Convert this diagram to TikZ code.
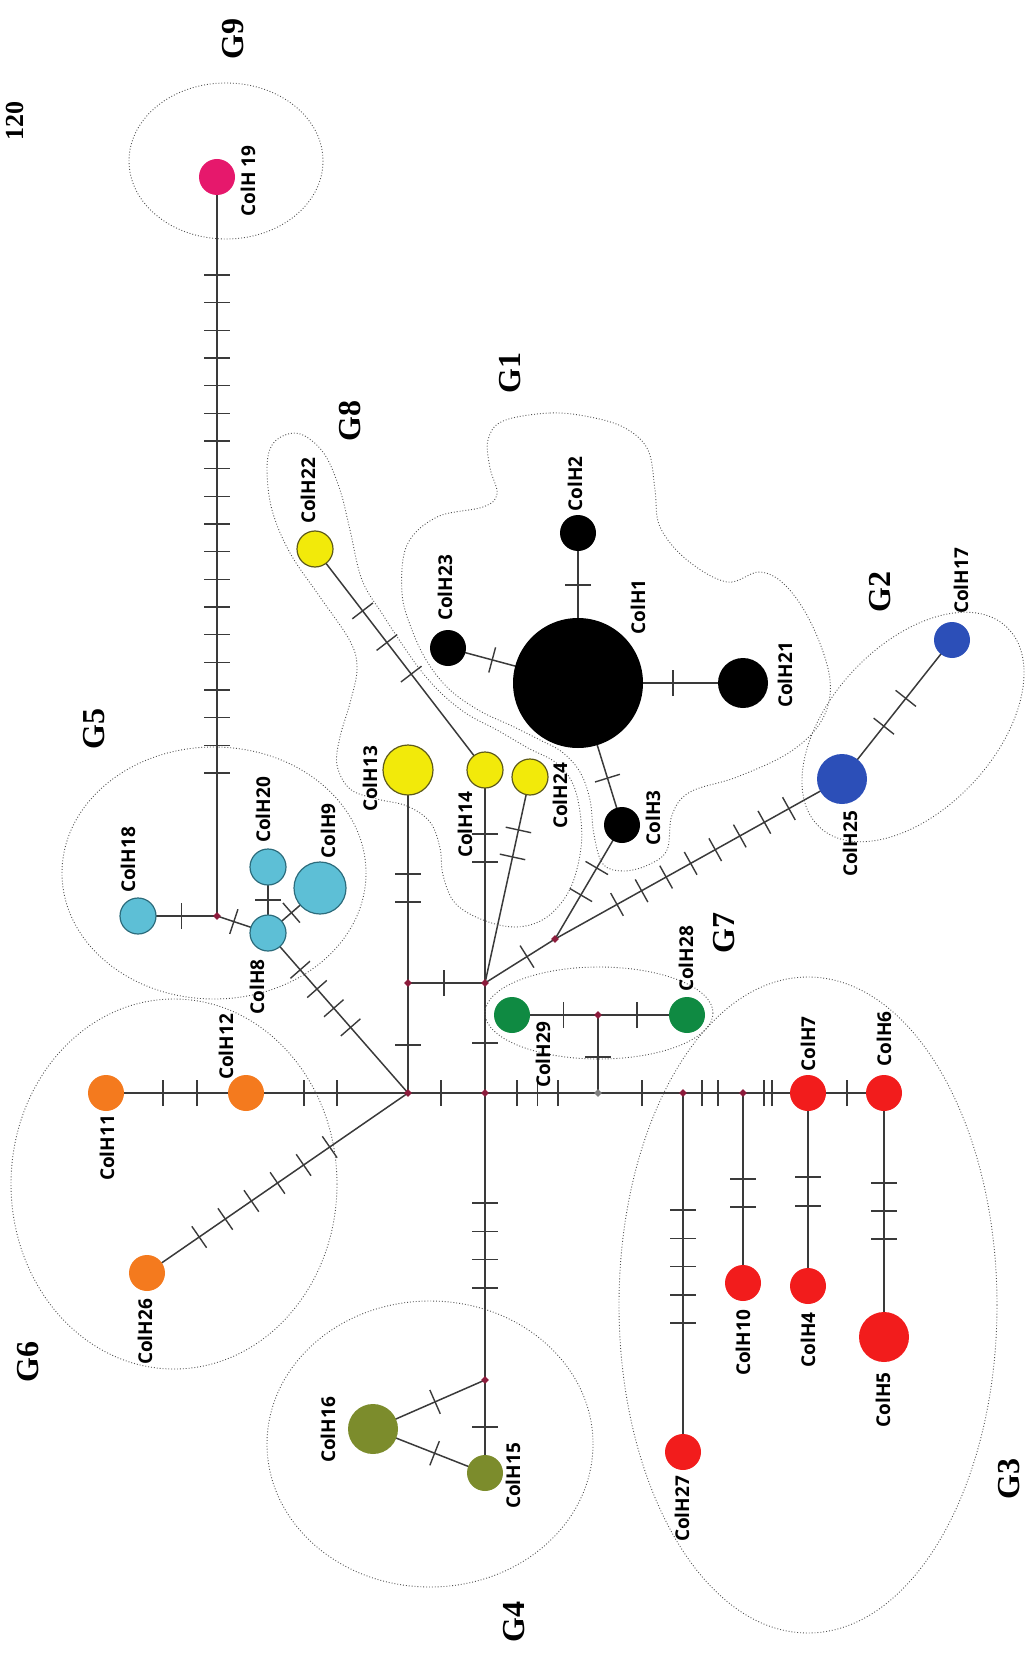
\documentclass[tikz,border=0pt]{standalone}
\usepackage{fontspec}
\setmainfont{Liberation Serif}
\newfontfamily\labfont{Open Sans}
\usetikzlibrary{shapes.geometric,backgrounds}
\definecolor{linec}{HTML}{3A3A3A}
\definecolor{jcol}{HTML}{8C1C3C}
\definecolor{zonec}{HTML}{505050}
\definecolor{pinkc}{HTML}{E6186C}
\definecolor{yelc}{HTML}{F2EA0A}
\definecolor{yelb}{HTML}{5E5A1A}
\definecolor{cyanc}{HTML}{5DBFD6}
\definecolor{cyanb}{HTML}{2C6C7C}
\definecolor{bluec}{HTML}{2C4FB8}
\definecolor{greenc}{HTML}{0F8A42}
\definecolor{redc}{HTML}{F21C1C}
\definecolor{orangec}{HTML}{F47A1E}
\definecolor{olivec}{HTML}{7C8C2C}
\tikzset{
  edge/.style={draw=linec, line width=0.75pt},
  tk/.style={sloped, inner sep=0pt, outer sep=0pt, text=linec},
  hap/.style={circle, inner sep=0pt, outer sep=0pt},
  sm/.style={hap, minimum size=18pt},
  md/.style={hap, minimum size=25pt},
  yel/.style={fill=yelc, draw=yelb, line width=0.6pt},
  cya/.style={fill=cyanc, draw=cyanb, line width=0.6pt},
  jn/.style={diamond, fill=jcol, inner sep=0pt, minimum size=4pt},
  lab/.style={rotate=90, font=\labfont\bfseries\fontsize{9.5}{11}\selectfont, inner sep=0pt},
  grp/.style={rotate=90, font=\bfseries\fontsize{16}{18}\selectfont, inner sep=0pt},
  zone/.style={draw=zonec, densely dotted, line width=0.45pt},
}
\newcommand\tkrule{\rule[-6.5pt]{0.7pt}{13pt}}
\newcommand\tks[5]{%
  \foreach \i in {1,...,#5}{%
    \pgfmathsetmacro\tkp{#3+(#4-#3)*(\i-1)/max(#5-1,1)}%
    \path (#1.center) -- (#2.center) node[tk,pos=\tkp]{\tkrule};}}
\begin{document}
\begin{tikzpicture}[x=0.5pt,y=-0.5pt]
\useasboundingbox (0,0) rectangle (1033,1663);

% group outlines
\draw[zone] (226,161) ellipse (97 and 78);
\draw[zone] (214,873) ellipse (152 and 126);
\draw[zone] (174,1184) ellipse (163 and 185);
\draw[zone] (430,1444) ellipse (163 and 143);
\draw[zone] (808,1305) ellipse (189 and 328);
\draw[zone] (599,1013) ellipse (114 and 46);
\draw[zone, shift={(913,727)}, rotate=47] (0,0) ellipse (137 and 82);
\draw[zone] plot[smooth cycle, tension=0.6] coordinates {
 (503,421) (550,413) (590,417) (625,428) (648,450) (655,490) (660,527) (687,560)
 (727,582) (760,572) (787,587) (813,627) (830,680) (822,720) (790,752) (737,777)
 (690,792) (672,815) (667,850) (648,865) (623,871) (603,864) (594,835) (590,800)
 (580,772) (562,752) (540,740) (512,726) (480,711) (450,690) (428,663) (412,630)
 (402,593) (407,545) (437,517) (483,507) (497,494) (490,468) (488,440)};
\draw[zone] plot[smooth cycle, tension=0.6] coordinates {
 (288,434) (305,436) (325,455) (340,490) (350,530) (362,580) (383,615) (404,647)
 (422,672) (442,694) (467,714) (497,730) (528,748) (555,762) (572,782) (580,812)
 (581,848) (570,889) (547,917) (517,927) (483,920) (455,903) (443,875) (440,848)
 (430,822) (407,806) (377,799) (350,789) (337,765) (340,737) (350,703) (357,669)
 (350,641) (320,597) (290,553) (272,510) (267,469) (272,445)};

% haplotypes
\node[sm, fill=pinkc] (h19) at (217,177) {};
\node[jn] (j19) at (217,916) {};
\node[sm, cya] (h18) at (138,916) {};
\node[sm, cya] (h8) at (268,933) {};
\node[sm, cya] (h20) at (268,867) {};
\node[hap, cya, minimum size=26pt] (h9) at (320,888) {};
\node[sm, yel] (h22) at (315,549) {};
\node[md, yel] (h13) at (408,770) {};
\node[sm, yel] (h14) at (485,770) {};
\node[sm, yel] (h24) at (530,777) {};
\node[sm, fill=black] (h23) at (448,648) {};
\node[hap, fill=black, minimum size=65pt] (h1) at (578,683) {};
\node[sm, fill=black] (h2) at (578,533) {};
\node[md, fill=black] (h21) at (743,683) {};
\node[sm, fill=black] (h3) at (622,825) {};
\node[jn] (ja) at (555,939) {};
\node[md, fill=bluec] (h25) at (842,779) {};
\node[sm, fill=bluec] (h17) at (952,640) {};
\node[jn] (jc) at (408,983) {};
\node[jn] (jm) at (485,983) {};
\node[sm, fill=greenc] (h28) at (687,1015) {};
\node[sm, fill=greenc] (h29) at (512,1015) {};
\node[jn] (jd) at (598,1015) {};
\node[sm, fill=orangec] (h11) at (106,1093) {};
\node[sm, fill=orangec] (h12) at (246,1093) {};
\node[jn] (jb) at (408,1093) {};
\node[jn] (jn) at (485,1093) {};
\node[jn, fill=gray] (je) at (598,1093) {};
\node[jn] (jf) at (683,1093) {};
\node[jn] (jg) at (743,1093) {};
\node[sm, fill=redc] (h7) at (808,1093) {};
\node[sm, fill=redc] (h6) at (884,1093) {};
\node[sm, fill=orangec] (h26) at (147,1273) {};
\node[jn] (jh) at (485,1380) {};
\node[sm, fill=olivec] (h15) at (485,1473) {};
\node[md, fill=olivec] (h16) at (373,1429) {};
\node[sm, fill=redc] (h27) at (683,1452) {};
\node[sm, fill=redc] (h10) at (743,1283) {};
\node[sm, fill=redc] (h4) at (808,1286) {};
\node[md, fill=redc] (h5) at (884,1337) {};

% connectors with mutation ticks
\begin{scope}[on background layer]
\draw[edge] (h19.center) -- (j19.center); \tks{h19}{j19}{0.1326}{0.8065}{19}
\draw[edge] (j19.center) -- (h18.center); \tks{j19}{h18}{0.45}{0.45}{1}
\draw[edge] (j19.center) -- (h8.center);  \tks{j19}{h8}{0.33}{0.33}{1}
\draw[edge] (h8.center) -- (h20.center);  \tks{h8}{h20}{0.5}{0.5}{1}
\draw[edge] (h8.center) -- (h9.center);   \tks{h8}{h9}{0.45}{0.45}{1}
\draw[edge] (h8.center) -- (jb.center);   \tks{h8}{jb}{0.23}{0.59}{4}
\draw[edge] (h22.center) -- (h14.center); \tks{h22}{h14}{0.28}{0.566}{3}
\draw[edge] (h13.center) -- (jc.center);  \tks{h13}{jc}{0.488}{0.62}{2}
\draw[edge] (h14.center) -- (jm.center);  \tks{h14}{jm}{0.30}{0.432}{2}
\draw[edge] (h24.center) -- (jm.center);  \tks{h24}{jm}{0.257}{0.388}{2}
\draw[edge] (h23.center) -- (h1.center);  \tks{h23}{h1}{0.34}{0.34}{1}
\draw[edge] (h1.center) -- (h2.center);   \tks{h1}{h2}{0.653}{0.653}{1}
\draw[edge] (h1.center) -- (h21.center);  \tks{h1}{h21}{0.576}{0.576}{1}
\draw[edge] (h1.center) -- (h3.center);   \tks{h1}{h3}{0.67}{0.67}{1}
\draw[edge] (h3.center) -- (ja.center);   \tks{h3}{ja}{0.377}{0.614}{2}
\draw[edge] (ja.center) -- (h25.center);  \tks{ja}{h25}{0.216}{0.815}{8}
\draw[edge] (h25.center) -- (h17.center); \tks{h25}{h17}{0.38}{0.58}{2}
\draw[edge] (ja.center) -- (jm.center);   \tks{ja}{jm}{0.4}{0.4}{1}
\draw[edge] (jc.center) -- (jm.center);   \tks{jc}{jm}{0.47}{0.47}{1}
\draw[edge] (jc.center) -- (jb.center);   \tks{jc}{jb}{0.564}{0.564}{1}
\draw[edge] (jm.center) -- (jn.center);   \tks{jm}{jn}{0.545}{0.545}{1}
\draw[edge] (h29.center) -- (jd.center);  \tks{h29}{jd}{0.6}{0.6}{1}
\draw[edge] (jd.center) -- (h28.center);  \tks{jd}{h28}{0.44}{0.44}{1}
\draw[edge] (jd.center) -- (je.center);   \tks{jd}{je}{0.54}{0.54}{1}
\draw[edge] (h11.center) -- (h12.center); \tks{h11}{h12}{0.407}{0.65}{2}
\draw[edge] (h12.center) -- (jb.center);  \tks{h12}{jb}{0.358}{0.562}{2}
\draw[edge] (jb.center) -- (jn.center);   \tks{jb}{jn}{0.43}{0.43}{1}
\draw[edge] (jn.center) -- (je.center);   \tks{jn}{je}{0.283}{0.646}{3}
\draw[edge] (je.center) -- (jf.center);   \tks{je}{jf}{0.518}{0.518}{1}
\draw[edge] (jf.center) -- (jg.center);   \tks{jf}{jg}{0.317}{0.583}{2}
\draw[edge] (jg.center) -- (h7.center);   \tks{jg}{h7}{0.323}{0.446}{2}
\draw[edge] (h7.center) -- (h6.center);   \tks{h7}{h6}{0.513}{0.513}{1}
\draw[edge] (jb.center) -- (h26.center);  \tks{jb}{h26}{0.3}{0.8}{6}
\draw[edge] (jn.center) -- (jh.center);   \tks{jn}{jh}{0.383}{0.679}{4}
\draw[edge] (jh.center) -- (h15.center);  \tks{jh}{h15}{0.505}{0.505}{1}
\draw[edge] (jh.center) -- (h16.center);  \tks{jh}{h16}{0.446}{0.446}{1}
\draw[edge] (h16.center) -- (h15.center); \tks{h16}{h15}{0.55}{0.55}{1}
\draw[edge] (jf.center) -- (h27.center);  \tks{jf}{h27}{0.326}{0.641}{5}
\draw[edge] (jg.center) -- (h10.center);  \tks{jg}{h10}{0.453}{0.6}{2}
\draw[edge] (h7.center) -- (h4.center);   \tks{h7}{h4}{0.435}{0.585}{2}
\draw[edge] (h6.center) -- (h5.center);   \tks{h6}{h5}{0.369}{0.598}{3}
\end{scope}

% haplotype labels
\node[lab] (l19) at (248,181) {ColH 19};
\node[lab] (l18) at (128,860) {ColH18};
\node[lab] (l20) at (263,810) {ColH20};
\node[lab] (l9) at (328,831) {ColH9};
\node[lab] (l8) at (257,987) {ColH8};
\node[lab] (l22) at (308,491) {ColH22};
\node[lab] (l13) at (370,779) {ColH13};
\node[lab] (l14) at (465,825) {ColH14};
\node[lab] (l24) at (560,796) {ColH24};
\node[lab] (l23) at (445,588) {ColH23};
\node[lab] (l1) at (638,607) {ColH1};
\node[lab] (l2) at (575,484) {ColH2};
\node[lab] (l21) at (785,675) {ColH21};
\node[lab] (l3) at (653,818) {ColH3};
\node[lab] (l25) at (850,844) {ColH25};
\node[lab] (l17) at (961,581) {ColH17};
\node[lab] (l28) at (686,959) {ColH28};
\node[lab] (l29) at (543,1055) {ColH29};
\node[lab] (l11) at (107,1148) {ColH11};
\node[lab] (l12) at (226,1047) {ColH12};
\node[lab] (l26) at (145,1332) {ColH26};
\node[lab] (l16) at (328,1430) {ColH16};
\node[lab] (l15) at (513,1476) {ColH15};
\node[lab] (l27) at (682,1509) {ColH27};
\node[lab] (l10) at (743,1343) {ColH10};
\node[lab] (l4) at (808,1340) {ColH4};
\node[lab] (l5) at (883,1400) {ColH5};
\node[lab] (l7) at (808,1044) {ColH7};
\node[lab] (l6) at (884,1039) {ColH6};

% group labels
\node[grp] (g9) at (233,39) {G9};
\node[grp] (g8) at (350,421) {G8};
\node[grp] (g1) at (510,373) {G1};
\node[grp] (g5) at (94,729) {G5};
\node[grp] (g2) at (880,592) {G2};
\node[grp] (g7) at (724,933) {G7};
\node[grp] (g6) at (28,1362) {G6};
\node[grp] (g4) at (514,1622) {G4};
\node[grp] (g3) at (1009,1479) {G3};
\node[grp, font=\bfseries\fontsize{13}{15}\selectfont] (t120) at (15,121) {120};
\end{tikzpicture}
\end{document}
